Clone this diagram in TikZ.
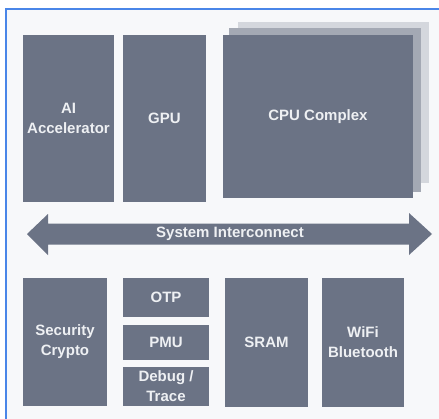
\documentclass[tikz,border=0pt]{standalone}
\usepackage{fontspec}
\setmainfont{Liberation Sans}
\usetikzlibrary{positioning}
\definecolor{blockcol}{RGB}{107,115,133}
\definecolor{midcol}{RGB}{164,169,180}
\definecolor{backcol}{RGB}{212,215,221}
\definecolor{bgcol}{RGB}{247,248,250}
\definecolor{framecol}{RGB}{74,134,232}
\definecolor{txtcol}{RGB}{238,240,243}

\begin{document}
\begin{tikzpicture}[x=1pt,y=-1pt,
  blk/.style={fill=blockcol,text=txtcol,inner sep=0pt,align=center,
    font=\bfseries\fontsize{15}{20}\selectfont},
  layer/.style={inner sep=0pt},
]
\useasboundingbox (0,0) rectangle (439,418);
\fill[white] (0,0) rectangle (439,418);
\fill[bgcol] (6,9) rectangle (445,425);
\draw[framecol,line width=2.5pt] (6,425) -- (6,9) -- (445,9);

  % Node: ai
\node[blk,minimum width=91pt,minimum height=167pt] (ai) at (68.5,118.5) {AI\\Accelerator};
  % Node: gpu
\node[blk,minimum width=83pt,minimum height=167pt] (gpu) at (164.5,118.5) {GPU};
  % Node: cpu (stacked)
\node[layer,fill=backcol,minimum width=191pt,minimum height=161pt] (cpuback) at (333.5,102.5) {};
\node[layer,fill=midcol,minimum width=192pt,minimum height=164pt] (cpumid) at (325,110) {};
\node[blk,minimum width=190pt,minimum height=163pt] (cpu) at (318,116.5) {CPU Complex};

  % Node: bus
\fill[blockcol] (27,234) -- (48,214) -- (48,223.5) -- (409,223.5) -- (409,213)
  -- (432,234) -- (409,255) -- (409,244.5) -- (48,244.5) -- (48,255) -- cycle;
\node[text=txtcol,font=\bfseries\fontsize{15}{20}\selectfont] (bus) at (230,233.5) {System Interconnect};

  % Node: sec
\node[blk,minimum width=84pt,minimum height=128pt] (sec) at (65,342) {Security\\Crypto};
  % Node: otp
\node[blk,minimum width=86pt,minimum height=39pt] (otp) at (166,297.5) {OTP};
  % Node: pmu
\node[blk,minimum width=86pt,minimum height=35pt] (pmu) at (166,342.5) {PMU};
  % Node: dbg
\node[blk,minimum width=86pt,minimum height=39pt] (dbg) at (166,386.5) {Debug /\\Trace};
  % Node: sram
\node[blk,minimum width=83pt,minimum height=129pt] (sram) at (266.5,342.5) {SRAM};
  % Node: wifi
\node[blk,minimum width=82pt,minimum height=129pt] (wifi) at (363,342.5) {WiFi\\Bluetooth};
\end{tikzpicture}
\end{document}
